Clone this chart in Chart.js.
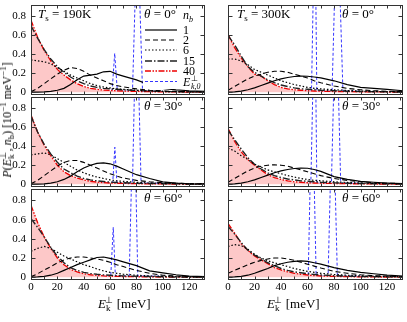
<!DOCTYPE html>
<html>
<head>
<meta charset="utf-8">
<script src="https://cdn.jsdelivr.net/npm/chart.js@4.4.1/dist/chart.umd.min.js"></script>
<style>
html, body { margin:0; padding:0; background:#fff; }
#wrap { position:relative; width:407px; height:322px; overflow:hidden; font-family:"Liberation Serif", serif; color:#000; }
canvas { position:absolute; }
.lab { position:absolute; font-size:13px; line-height:13px; white-space:nowrap; }
.sb { font-size:9px; vertical-align:-3px; }
.sp { font-size:9px; vertical-align:5px; }
#ylab { position:absolute; left:7px; top:120px; transform:translate(-50%,-50%) rotate(-90deg); font-size:12px; line-height:12px; white-space:nowrap; }
</style>
</head>
<body>
<div id="wrap">
  <canvas id="cA" width="207" height="97" style="left:0;top:0"></canvas>
  <canvas id="cB" width="207" height="97" style="left:200px;top:0"></canvas>
  <canvas id="cC" width="207" height="97" style="left:0;top:92px"></canvas>
  <canvas id="cD" width="207" height="97" style="left:200px;top:92px"></canvas>
  <canvas id="cE" width="207" height="138" style="left:0;top:184px"></canvas>
  <canvas id="cF" width="207" height="138" style="left:200px;top:184px"></canvas>

  <div class="lab" style="left:38px;top:7px"><i>T</i><span class="sb">s</span> = 190K</div>
  <div class="lab" style="left:237px;top:7px"><i>T</i><span class="sb">s</span> = 300K</div>
  <div class="lab" style="left:144px;top:7px"><i>θ</i> = 0°</div>
  <div class="lab" style="left:342px;top:7px"><i>θ</i> = 0°</div>
  <div class="lab" style="left:144px;top:99px"><i>θ</i> = 30°</div>
  <div class="lab" style="left:342px;top:99px"><i>θ</i> = 30°</div>
  <div class="lab" style="left:144px;top:191px"><i>θ</i> = 60°</div>
  <div class="lab" style="left:342px;top:191px"><i>θ</i> = 60°</div>

  <div class="lab" style="left:98px;top:294px"><i>E</i><span class="sb">k</span><span class="sp" style="margin-left:-5px">⊥</span> [meV]</div>
  <div class="lab" style="left:267px;top:294px"><i>E</i><span class="sb">k</span><span class="sp" style="margin-left:-5px">⊥</span> [meV]</div>
  <div id="ylab"><i>P</i>(<i>E</i><span class="sb">k</span><span class="sp" style="margin-left:-5px">⊥</span>, <i>n</i><span class="sb">b</span>) [10<span class="sp">−1</span> meV<span class="sp">−1</span>]</div>
</div>

<script>
// energy grid (meV) shared by all curves
const energy = [0, 5, 10, 15, 20, 25, 30, 35, 40, 45, 50, 55, 60, 65, 70, 80, 90, 100, 110, 120, 132];
const xTicks = [0, 20, 40, 60, 80, 100, 120];
const yTicks = [0, 0.2, 0.4, 0.6, 0.8];
const nbLabels = ['1', '2', '6', '15', '40'];

// Ts = 190K, theta = 0
const a_n1  = [0, 0, 0.002, 0.008, 0.02, 0.04, 0.08, 0.13, 0.17, 0.18, 0.19, 0.215, 0.22, 0.19, 0.17, 0.13, 0.075, 0.04, 0.025, 0.015, 0.008];
const a_n2  = [0.005, 0.04, 0.09, 0.14, 0.19, 0.23, 0.26, 0.25, 0.22, 0.18, 0.15, 0.12, 0.09, 0.07, 0.055, 0.035, 0.02, 0.012, 0.008, 0.005, 0.003];
const a_n6  = [0.34, 0.33, 0.32, 0.30, 0.26, 0.22, 0.18, 0.15, 0.12, 0.09, 0.07, 0.055, 0.045, 0.035, 0.03, 0.02, 0.012, 0.008, 0.005, 0.003, 0.002];
const a_n15 = [0.70, 0.57, 0.45, 0.35, 0.27, 0.21, 0.16, 0.12, 0.09, 0.065, 0.05, 0.04, 0.035, 0.03, 0.025, 0.018, 0.012, 0.008, 0.005, 0.003, 0.002];
const a_n40 = [0.76, 0.58, 0.44, 0.33, 0.24, 0.18, 0.13, 0.09, 0.06, 0.04, 0.03, 0.022, 0.018, 0.014, 0.012, 0.008, 0.005, 0.003, 0.002, 0.001, 0];
const a_e0E = [50, 61.5, 63.5, 65.5, 77, 80.7, 84.6, 100];
const a_e0P = [0.01, 0.01, 0.41, 0.01, 0.01, 1.8, 0.01, 0.01];

// Ts = 300K, theta = 0
const b_n1  = [0, 0.002, 0.01, 0.025, 0.045, 0.07, 0.095, 0.12, 0.14, 0.155, 0.165, 0.17, 0.168, 0.16, 0.15, 0.12, 0.08, 0.05, 0.04, 0.03, 0.015];
const b_n2  = [0.02, 0.06, 0.10, 0.14, 0.17, 0.19, 0.21, 0.22, 0.22, 0.21, 0.19, 0.17, 0.15, 0.12, 0.10, 0.065, 0.04, 0.025, 0.015, 0.01, 0.006];
const b_n6  = [0.35, 0.35, 0.33, 0.29, 0.24, 0.21, 0.18, 0.15, 0.12, 0.10, 0.08, 0.065, 0.05, 0.04, 0.035, 0.025, 0.018, 0.012, 0.008, 0.005, 0.003];
const b_n15 = [0.60, 0.50, 0.38, 0.27, 0.21, 0.17, 0.13, 0.10, 0.075, 0.06, 0.045, 0.035, 0.03, 0.025, 0.02, 0.015, 0.01, 0.007, 0.005, 0.003, 0.002];
const b_n40 = [0.61, 0.47, 0.36, 0.27, 0.19, 0.17, 0.12, 0.08, 0.05, 0.035, 0.025, 0.02, 0.015, 0.012, 0.01, 0.007, 0.005, 0.004, 0.003, 0.002, 0.001];
const b_e0E = [50, 63, 65.5, 67, 78.5, 82.3, 86.7, 100];
const b_e0P = [0.01, 0.01, 2, 0.01, 0.01, 2, 0.01, 0.01];

// Ts = 190K, theta = 30
const c_n1  = [0, 0, 0.003, 0.01, 0.025, 0.05, 0.085, 0.13, 0.17, 0.20, 0.22, 0.225, 0.215, 0.19, 0.16, 0.10, 0.06, 0.025, 0.01, 0.004, 0.001];
const c_n2  = [0.005, 0.04, 0.09, 0.14, 0.19, 0.23, 0.25, 0.25, 0.23, 0.20, 0.17, 0.14, 0.11, 0.085, 0.065, 0.04, 0.025, 0.015, 0.01, 0.006, 0.003];
const c_n6  = [0.31, 0.32, 0.33, 0.31, 0.27, 0.23, 0.19, 0.15, 0.12, 0.095, 0.075, 0.06, 0.045, 0.035, 0.03, 0.02, 0.012, 0.008, 0.005, 0.003, 0.002];
const c_n15 = [0.72, 0.55, 0.42, 0.32, 0.23, 0.16, 0.12, 0.085, 0.06, 0.045, 0.035, 0.028, 0.022, 0.018, 0.015, 0.01, 0.007, 0.005, 0.003, 0.002, 0.001];
const c_n40 = [0.73, 0.55, 0.41, 0.30, 0.20, 0.13, 0.09, 0.065, 0.045, 0.03, 0.022, 0.016, 0.012, 0.01, 0.008, 0.005, 0.003, 0.002, 0.001, 0, 0];
const c_e0E = [50, 62, 63.6, 65.2, 77, 80, 83.5, 100];
const c_e0P = [0.01, 0.01, 0.39, 0.01, 0.01, 2, 0.01, 0.01];

// Ts = 300K, theta = 30
const d_n1  = [0, 0.002, 0.01, 0.025, 0.045, 0.07, 0.095, 0.12, 0.14, 0.155, 0.165, 0.17, 0.168, 0.155, 0.135, 0.08, 0.05, 0.03, 0.02, 0.012, 0.006];
const d_n2  = [0.02, 0.06, 0.10, 0.14, 0.17, 0.19, 0.20, 0.205, 0.20, 0.19, 0.17, 0.15, 0.13, 0.11, 0.09, 0.06, 0.04, 0.025, 0.015, 0.01, 0.006];
const d_n6  = [0.38, 0.35, 0.30, 0.26, 0.21, 0.18, 0.15, 0.13, 0.11, 0.09, 0.075, 0.06, 0.05, 0.04, 0.035, 0.025, 0.018, 0.012, 0.008, 0.005, 0.003];
const d_n15 = [0.57, 0.47, 0.37, 0.28, 0.21, 0.16, 0.12, 0.09, 0.07, 0.055, 0.045, 0.035, 0.03, 0.025, 0.02, 0.014, 0.01, 0.007, 0.005, 0.003, 0.002];
const d_n40 = [0.59, 0.45, 0.34, 0.26, 0.20, 0.15, 0.10, 0.07, 0.05, 0.035, 0.025, 0.02, 0.015, 0.012, 0.01, 0.007, 0.005, 0.003, 0.002, 0.001, 0];
const d_e0E = [50, 62.5, 65.5, 67, 78, 81.5, 85, 100];
const d_e0P = [0.01, 0.01, 2, 0.01, 0.01, 2, 0.01, 0.01];

// Ts = 190K, theta = 60
const e_n1  = [0, 0.002, 0.008, 0.02, 0.04, 0.07, 0.10, 0.13, 0.155, 0.18, 0.205, 0.21, 0.195, 0.18, 0.16, 0.12, 0.065, 0.045, 0.025, 0.01, 0.005];
const e_n2  = [0.005, 0.035, 0.075, 0.11, 0.15, 0.18, 0.20, 0.21, 0.21, 0.20, 0.19, 0.175, 0.155, 0.13, 0.11, 0.07, 0.04, 0.02, 0.012, 0.006, 0.003];
const e_n6  = [0.27, 0.30, 0.32, 0.30, 0.26, 0.22, 0.19, 0.16, 0.13, 0.11, 0.085, 0.065, 0.05, 0.04, 0.03, 0.02, 0.012, 0.008, 0.005, 0.003, 0.002];
const e_n15 = [0.61, 0.52, 0.42, 0.31, 0.22, 0.15, 0.10, 0.07, 0.05, 0.038, 0.03, 0.024, 0.02, 0.016, 0.013, 0.009, 0.006, 0.004, 0.002, 0.001, 0];
const e_n40 = [0.75, 0.57, 0.42, 0.30, 0.20, 0.13, 0.08, 0.055, 0.035, 0.025, 0.018, 0.013, 0.01, 0.008, 0.006, 0.004, 0.002, 0.001, 0, 0, 0];
const e_e0E = [50, 60.5, 62.4, 64, 74.5, 78, 81, 100];
const e_e0P = [0.01, 0.01, 0.52, 0.01, 0.01, 2, 0.01, 0.01];

// Ts = 300K, theta = 60
const f_n1  = [0, 0.002, 0.008, 0.02, 0.04, 0.065, 0.09, 0.12, 0.14, 0.155, 0.165, 0.17, 0.165, 0.15, 0.135, 0.10, 0.07, 0.05, 0.035, 0.02, 0.012];
const f_n2  = [0.04, 0.07, 0.10, 0.13, 0.155, 0.175, 0.19, 0.20, 0.20, 0.19, 0.175, 0.155, 0.135, 0.115, 0.095, 0.06, 0.04, 0.025, 0.015, 0.01, 0.006];
const f_n6  = [0.32, 0.34, 0.33, 0.29, 0.24, 0.20, 0.17, 0.15, 0.13, 0.11, 0.09, 0.075, 0.06, 0.05, 0.04, 0.028, 0.02, 0.013, 0.009, 0.006, 0.004];
const f_n15 = [0.53, 0.45, 0.36, 0.28, 0.23, 0.19, 0.15, 0.12, 0.09, 0.07, 0.055, 0.045, 0.035, 0.028, 0.022, 0.015, 0.01, 0.007, 0.005, 0.003, 0.002];
const f_n40 = [0.56, 0.46, 0.35, 0.28, 0.22, 0.18, 0.14, 0.10, 0.075, 0.055, 0.04, 0.03, 0.022, 0.016, 0.012, 0.008, 0.005, 0.003, 0.002, 0.001, 0];
const f_e0E = [50, 60.5, 63.5, 66.5, 75.5, 79, 82.5, 100];
const f_e0P = [0.01, 0.01, 2, 0.01, 0.01, 2, 0.01, 0.01];

const styles = [
  { color:'#000', width:1.2, dash:[] },
  { color:'#000', width:1.1, dash:[5, 3] },
  { color:'#000', width:1.2, dash:[1.5, 2] },
  { color:'#222', width:1.4, dash:[7, 2, 1.5, 2] },
  { color:'#e00', width:1.3, dash:[6, 1.5, 1.5, 1.5, 1.5, 1.5] },
];
const blueStyle = { color:'#3535ff', width:1, dash:[3, 2] };
const FONT = '"Liberation Serif", serif';

const panels = [
  { id:'cA', col:0, row:0, curves:[a_n1, a_n2, a_n6, a_n15, a_n40], e0E:a_e0E, e0P:a_e0P, legend:true },
  { id:'cB', col:1, row:0, curves:[b_n1, b_n2, b_n6, b_n15, b_n40], e0E:b_e0E, e0P:b_e0P },
  { id:'cC', col:0, row:1, curves:[c_n1, c_n2, c_n6, c_n15, c_n40], e0E:c_e0E, e0P:c_e0P },
  { id:'cD', col:1, row:1, curves:[d_n1, d_n2, d_n6, d_n15, d_n40], e0E:d_e0E, e0P:d_e0P },
  { id:'cE', col:0, row:2, curves:[e_n1, e_n2, e_n6, e_n15, e_n40], e0E:e_e0E, e0P:e_e0P },
  { id:'cF', col:1, row:2, curves:[f_n1, f_n2, f_n6, f_n15, f_n40], e0E:f_e0E, e0P:f_e0P },
];

// frame + inward ticks on all four sides
const framePlugin = {
  id: 'frame',
  afterDraw(chart) {
    const { ctx, chartArea:a, scales:{ x, y } } = chart;
    ctx.save();
    ctx.strokeStyle = '#333';
    ctx.lineWidth = 1;
    ctx.setLineDash([]);
    const L = Math.round(a.left) + 0.5, R = Math.round(a.right) - 0.5;
    const T = Math.round(a.top) + 0.5, B = Math.round(a.bottom) - 0.5;
    ctx.strokeRect(L, T, R - L, B - T);
    ctx.beginPath();
    for (let v = 10; v < 132; v += 10) {
      const px = Math.round(x.getPixelForValue(v)) + 0.5;
      ctx.moveTo(px, B); ctx.lineTo(px, B - 3);
      ctx.moveTo(px, T); ctx.lineTo(px, T + 3);
    }
    yTicks.forEach(v => {
      const py = Math.round(y.getPixelForValue(v)) + 0.5;
      ctx.moveTo(L, py); ctx.lineTo(L + 4, py);
      ctx.moveTo(R, py); ctx.lineTo(R - 4, py);
    });
    ctx.stroke();
    ctx.restore();
  }
};

// legend box inside the first panel
const legendPlugin = {
  id: 'nbLegend',
  afterDatasetsDraw(chart) {
    const { ctx, chartArea:a } = chart;
    ctx.save();
    ctx.fillStyle = '#fff';
    ctx.fillRect(143, a.top + 1, a.right - 144, 83);
    const rows = [30, 40, 50, 61, 71, 81.5];
    ctx.fillStyle = '#000';
    chart.data.datasets.forEach((ds, i) => {
      ctx.beginPath();
      ctx.strokeStyle = ds.borderColor;
      ctx.lineWidth = ds.borderWidth;
      ctx.setLineDash(ds.borderDash || []);
      ctx.moveTo(145, rows[i]);
      ctx.lineTo(177, rows[i]);
      ctx.stroke();
      ctx.setLineDash([]);
      if (i < nbLabels.length) {
        ctx.font = '12px ' + FONT;
        ctx.fillText(ds.label, 183, rows[i] + 4);
      }
    });
    // E_{k,0}^perp
    ctx.font = 'italic 12px ' + FONT;
    ctx.fillText('E', 183, 86);
    ctx.font = '8px ' + FONT;
    ctx.fillText('⊥', 191, 81);
    ctx.font = 'italic 8px ' + FONT;
    ctx.fillText('k,0', 191, 89);
    // n_b title
    ctx.font = 'italic 12px ' + FONT;
    ctx.fillText('n', 183, 19);
    ctx.font = 'italic 8px ' + FONT;
    ctx.fillText('b', 189, 22);
    ctx.restore();
  }
};

function pts(xs, ys) {
  return xs.map((e, i) => ({ x:e, y:ys[i] }));
}

function noPad(s) {
  s.paddingTop = 0; s.paddingBottom = 0; s.paddingLeft = 0; s.paddingRight = 0;
}

panels.forEach(p => {
  const datasets = p.curves.map((ys, i) => ({
    label: nbLabels[i],
    data: pts(energy, ys),
    borderColor: styles[i].color,
    borderWidth: styles[i].width,
    borderDash: styles[i].dash,
    pointRadius: 0,
    tension: 0,
    fill: i === 4 ? 'origin' : false,
    backgroundColor: i === 4 ? '#fdc8c8' : 'transparent',
  }));
  datasets.push({
    label: 'E0',
    data: pts(p.e0E, p.e0P),
    borderColor: blueStyle.color,
    borderWidth: blueStyle.width,
    borderDash: blueStyle.dash,
    pointRadius: 0,
    tension: 0,
    fill: false,
  });

  const bottom = p.row === 2;
  const left = p.col === 0;
  new Chart(document.getElementById(p.id), {
    type: 'line',
    data: { datasets },
    options: {
      responsive: false,
      animation: false,
      devicePixelRatio: 1,
      layout: { padding: { top:5, right: left ? 2 : 4, left:0, bottom:0 } },
      plugins: { legend: { display:false }, tooltip: { enabled:false } },
      scales: {
        x: {
          type: 'linear', min: 0, max: 132,
          grid: { display:false, drawTicks:false },
          border: { display:false },
          ticks: { display: bottom, padding: 1, color:'#000', font: { family: FONT, size: 11 }, maxRotation: 0 },
          afterBuildTicks: s => { s.ticks = xTicks.map(v => ({ value:v })); },
          afterFit: s => { s.height = bottom ? 42 : 2; noPad(s); },
        },
        y: {
          type: 'linear', min: -0.03, max: 0.92,
          grid: { display:false, drawTicks:false },
          border: { display:false },
          ticks: { display: left, padding: 5, color:'#000', font: { family: FONT, size: 11 },
                   callback: v => String(+v.toFixed(1)) },
          afterBuildTicks: s => { s.ticks = yTicks.map(v => ({ value:v })); },
          afterFit: s => { s.width = left ? 31 : 28; noPad(s); },
        }
      }
    },
    plugins: p.legend ? [legendPlugin, framePlugin] : [framePlugin]
  });
});
</script>
</body>
</html>
